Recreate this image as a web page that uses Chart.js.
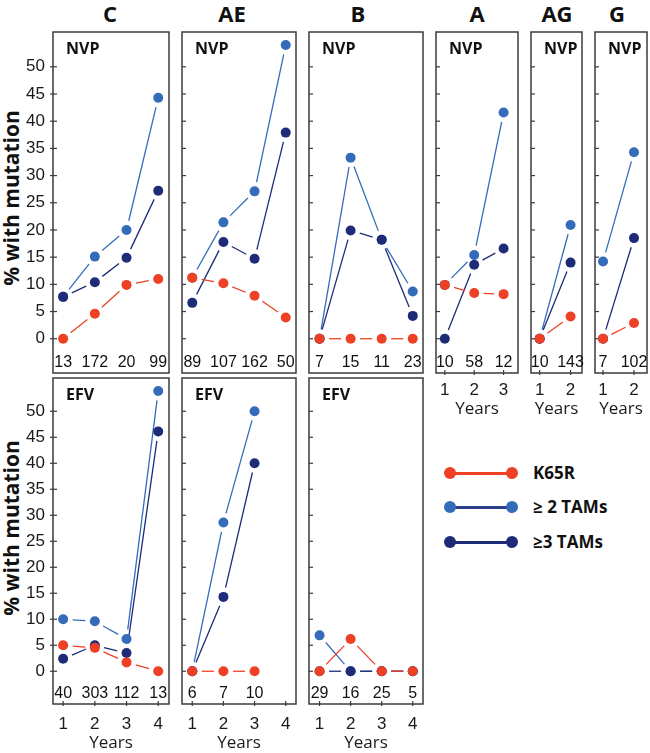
<!DOCTYPE html>
<html>
<head>
<meta charset="utf-8">
<script src="https://cdn.jsdelivr.net/npm/chart.js@4.4.1/dist/chart.umd.min.js"></script>
<style>
html, body { margin: 0; padding: 0; background: #fff; overflow: hidden; }
#wrap { position: relative; width: 650px; height: 753px; }
#wrap canvas { position: absolute; }
.col { position: absolute; top: 0; font: 700 22px "Open Sans", sans-serif; line-height: 26px; color: #111; transform: translateX(-50%); }
.ylab { position: absolute; font: 700 21px "Open Sans", sans-serif; line-height: 24px; color: #111; white-space: nowrap; transform: translate(-50%, -50%) rotate(-90deg); }
.leg { position: absolute; left: 444px; width: 200px; height: 24px; }
.leg .ln { position: absolute; left: 6px; top: 11px; width: 62px; height: 3px; }
.leg .dt { position: absolute; top: 6px; width: 12px; height: 12px; border-radius: 50%; }
.leg .tx { position: absolute; left: 89px; top: 0; font: 700 17px "Open Sans", sans-serif; line-height: 24px; color: #111; white-space: nowrap; }
</style>
</head>
<body>
<div id="wrap">
  <div class="col" style="left:110px">C</div>
  <div class="col" style="left:232px">AE</div>
  <div class="col" style="left:358px">B</div>
  <div class="col" style="left:477px">A</div>
  <div class="col" style="left:557px">AG</div>
  <div class="col" style="left:617px">G</div>
  <div class="ylab" style="left:11px;top:198px">% with mutation</div>
  <div class="ylab" style="left:11px;top:528px">% with mutation</div>

  <div class="leg" style="top:461px">
    <div class="ln" style="background:#ED4024"></div>
    <div class="dt" style="left:0;background:#ED4024"></div>
    <div class="dt" style="left:62px;background:#ED4024"></div>
    <div class="tx">K65R</div>
  </div>
  <div class="leg" style="top:495px">
    <div class="ln" style="background:#2B3F8C"></div>
    <div class="dt" style="left:0;background:#356CBA"></div>
    <div class="dt" style="left:62px;background:#356CBA"></div>
    <div class="tx">≥ 2 TAMs</div>
  </div>
  <div class="leg" style="top:530px">
    <div class="ln" style="background:#1E2B77"></div>
    <div class="dt" style="left:0;background:#1E2B77"></div>
    <div class="dt" style="left:62px;background:#1E2B77"></div>
    <div class="tx">≥3 TAMs</div>
  </div>
</div>

<script>
// years on the x axes
const years4 = [1, 2, 3, 4];
const years3 = [1, 2, 3];
const years2 = [1, 2];
const yTicks = [0, 5, 10, 15, 20, 25, 30, 35, 40, 45, 50];

// NVP row (% with mutation)
const cNvpK65R = [0, 4.6, 9.9, 11.0];
const cNvpTam2 = [7.7, 15.1, 20.0, 44.3];
const cNvpTam3 = [7.7, 10.4, 14.9, 27.2];
const cNvpN = [13, 172, 20, 99];

const aeNvpK65R = [11.2, 10.2, 7.9, 3.9];
const aeNvpTam2 = [11.2, 21.4, 27.1, 54.0];
const aeNvpTam3 = [6.6, 17.8, 14.7, 37.9];
const aeNvpN = [89, 107, 162, 50];

const bNvpK65R = [0, 0, 0, 0];
const bNvpTam2 = [0, 33.3, 18.2, 8.7];
const bNvpTam3 = [0, 19.9, 18.2, 4.2];
const bNvpN = [7, 15, 11, 23];

const aNvpK65R = [9.9, 8.4, 8.2];
const aNvpTam2 = [9.9, 15.4, 41.6];
const aNvpTam3 = [0, 13.6, 16.6];
const aNvpN = [10, 58, 12];

const agNvpK65R = [0, 4.1];
const agNvpTam2 = [0, 20.9];
const agNvpTam3 = [0, 14.0];
const agNvpN = [10, 143];

const gNvpK65R = [0, 2.9];
const gNvpTam2 = [14.2, 34.3];
const gNvpTam3 = [0, 18.5];
const gNvpN = [7, 102];

// EFV row
const cEfvK65R = [5.0, 4.5, 1.7, 0];
const cEfvTam2 = [10.0, 9.6, 6.2, 53.9];
const cEfvTam3 = [2.4, 5.0, 3.5, 46.1];
const cEfvN = [40, 303, 112, 13];

const aeEfvK65R = [0, 0, 0];
const aeEfvTam2 = [0, 28.6, 50.0];
const aeEfvTam3 = [0, 14.3, 40.0];
const aeEfvN = [6, 7, 10];

const bEfvK65R = [0, 6.2, 0, 0];
const bEfvTam2 = [6.9, 0, 0, 0];
const bEfvTam3 = [0, 0, 0, 0];
const bEfvN = [29, 16, 25, 5];

const red = '#ED4024';
const blue = '#356CBA';
const navy = '#1E2B77';
const gap = 9.5; // lines stop short of the dots

const top1 = { y: 32, h: 341, xh: 46, tickPad: 7 };
const row2 = { y: 378, h: 326, xh: 49, tickPad: 10 };

const panels = [
    { row: top1, x: 53,  w: 118, years: years4, xr: [0.68, 4.34], k: cNvpK65R, t2: cNvpTam2, t3: cNvpTam3, n: cNvpN, label: 'NVP', yAxis: true,  xAxis: false },
    { row: top1, x: 180, w: 118, years: years4, xr: [0.67, 4.33], k: aeNvpK65R, t2: aeNvpTam2, t3: aeNvpTam3, n: aeNvpN, label: 'NVP', yAxis: false, xAxis: false },
    { row: top1, x: 307, w: 118, years: years4, xr: [0.66, 4.33], k: bNvpK65R, t2: bNvpTam2, t3: bNvpTam3, n: bNvpN, label: 'NVP', yAxis: false, xAxis: false },
    { row: top1, x: 434, w: 86,  years: years3, xr: [0.70, 3.49], k: aNvpK65R, t2: aNvpTam2, t3: aNvpTam3, n: aNvpN, label: 'NVP', yAxis: false, xAxis: true },
    { row: top1, x: 529, w: 55,  years: years2, xr: [0.72, 2.37], k: agNvpK65R, t2: agNvpTam2, t3: agNvpTam3, n: agNvpN, label: 'NVP', yAxis: false, xAxis: true },
    { row: top1, x: 593, w: 56,  years: years2, xr: [0.74, 2.42], k: gNvpK65R, t2: gNvpTam2, t3: gNvpTam3, n: gNvpN, label: 'NVP', yAxis: false, xAxis: true },
    { row: row2, x: 53,  w: 118, years: years4, xr: [0.68, 4.34], k: cEfvK65R, t2: cEfvTam2, t3: cEfvTam3, n: cEfvN, label: 'EFV', yAxis: true,  xAxis: true },
    { row: row2, x: 180, w: 118, years: years4, xr: [0.67, 4.33], k: aeEfvK65R, t2: aeEfvTam2, t3: aeEfvTam3, n: aeEfvN, label: 'EFV', yAxis: false, xAxis: true },
    { row: row2, x: 307, w: 118, years: years4, xr: [0.66, 4.33], k: bEfvK65R, t2: bEfvTam2, t3: bEfvTam3, n: bEfvN, label: 'EFV', yAxis: false, xAxis: true }
];

function makeDeco(p) {
    return {
        id: 'deco',
        beforeDatasetsDraw(chart) {
            const ctx = chart.ctx;
            const a = chart.chartArea;
            const xs = chart.scales.x, ys = chart.scales.y;
            ctx.save();

            // connecting segments (drawn under the dots, cut short at both ends)
            for (let i = chart.data.datasets.length - 1; i >= 0; i--) {
                const pts = chart.getDatasetMeta(i).data;
                ctx.strokeStyle = chart.data.datasets[i].borderColor;
                ctx.lineWidth = 1.3;
                for (let j = 0; j < pts.length - 1; j++) {
                    const p0 = pts[j], p1 = pts[j + 1];
                    const dx = p1.x - p0.x, dy = p1.y - p0.y;
                    const d = Math.hypot(dx, dy);
                    if (d < 2 * gap + 2) continue;
                    const ux = dx / d, uy = dy / d;
                    ctx.beginPath();
                    ctx.moveTo(p0.x + ux * gap, p0.y + uy * gap);
                    ctx.lineTo(p1.x - ux * gap, p1.y - uy * gap);
                    ctx.stroke();
                }
            }

            // box
            ctx.strokeStyle = '#3b3b3b';
            ctx.lineWidth = 1.5;
            ctx.strokeRect(a.left, a.top, a.width, a.height);

            // tick marks
            ctx.lineWidth = 1.2;
            yTicks.forEach(v => {
                const py = ys.getPixelForValue(v);
                ctx.beginPath();
                ctx.moveTo(a.left - (p.yAxis ? 3 : 0), py);
                ctx.lineTo(a.left + 4, py);
                ctx.stroke();
            });
            if (p.xAxis) {
                p.years.forEach(v => {
                    const px = xs.getPixelForValue(v);
                    ctx.beginPath();
                    ctx.moveTo(px, a.bottom - 3);
                    ctx.lineTo(px, a.bottom + 2);
                    ctx.stroke();
                });
            }

            // drug label
            ctx.fillStyle = '#111';
            ctx.font = '700 16px "Open Sans"';
            ctx.textAlign = 'left';
            ctx.textBaseline = 'alphabetic';
            ctx.fillText(p.label, a.left + 13, a.top + 22);

            // sample sizes
            ctx.font = '16px "Liberation Sans"';
            ctx.textAlign = 'center';
            p.n.forEach((n, j) => {
                ctx.fillText(String(n), xs.getPixelForValue(p.years[j]), a.bottom - 6);
            });
            ctx.restore();
        }
    };
}

const wrap = document.getElementById('wrap');

function drawPanel(p) {
    const padT = 20, padR = 3;
    const padL = p.yAxis ? 0 : 3;
    const padB = p.xAxis ? 0 : 20;
    const left = p.yAxis ? 0 : p.x - padL;
    const cv = document.createElement('canvas');
    cv.width = p.x + p.w + padR - left;
    cv.height = padT + p.row.h + (p.xAxis ? p.row.xh : padB);
    cv.style.left = left + 'px';
    cv.style.top = (p.row.y - padT) + 'px';
    wrap.appendChild(cv);

    const pts = vals => vals.map((v, i) => ({ x: p.years[i], y: v }));

    new Chart(cv, {
        type: 'line',
        data: {
            datasets: [{
                label: 'K65R',
                data: pts(p.k),
                showLine: false,
                borderColor: red,
                pointBackgroundColor: red
            }, {
                label: '≥3 TAMs',
                data: pts(p.t3),
                showLine: false,
                borderColor: navy,
                pointBackgroundColor: navy
            }, {
                label: '≥2 TAMs',
                data: pts(p.t2),
                showLine: false,
                borderColor: blue,
                pointBackgroundColor: blue
            }]
        },
        options: {
            responsive: false,
            animation: false,
            events: [],
            layout: { padding: { left: padL, top: padT, right: padR, bottom: padB } },
            elements: { point: { radius: 5, borderWidth: 0 } },
            plugins: { legend: { display: false }, tooltip: { enabled: false } },
            scales: {
                x: {
                    type: 'linear',
                    display: p.xAxis,
                    min: p.xr[0],
                    max: p.xr[1],
                    afterBuildTicks: s => { s.ticks = p.years.map(v => ({ value: v })); },
                    afterFit: s => { if (p.xAxis) s.height = p.row.xh; },
                    grid: { display: false, drawTicks: false },
                    border: { display: false },
                    ticks: {
                        color: '#1a1a1a',
                        padding: p.row.tickPad,
                        maxRotation: 0,
                        autoSkip: false,
                        font: { family: 'Liberation Sans', size: 17 }
                    },
                    title: {
                        display: true,
                        text: 'Years',
                        color: '#1a1a1a',
                        padding: 0,
                        font: { family: 'Open Sans', size: 17 }
                    }
                },
                y: {
                    display: p.yAxis,
                    min: -6.3,
                    max: 56.4,
                    afterBuildTicks: s => { s.ticks = yTicks.map(v => ({ value: v })); },
                    afterFit: s => { if (p.yAxis) s.width = p.x; },
                    grid: { display: false, drawTicks: false },
                    border: { display: false },
                    ticks: {
                        color: '#1a1a1a',
                        padding: 8,
                        autoSkip: false,
                        font: { family: 'Liberation Sans', size: 17 }
                    }
                }
            }
        },
        plugins: [makeDeco(p)]
    });
}

panels.forEach(drawPanel);
</script>
</body>
</html>
